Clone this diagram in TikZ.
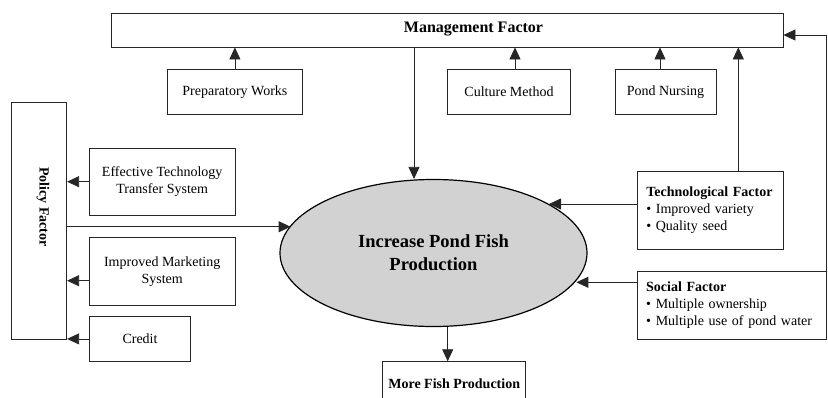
\documentclass[tikz,border=0pt]{standalone}
\usepackage{fontspec}
\setmainfont{Liberation Serif}
\usetikzlibrary{arrows.meta,shapes.geometric}

\begin{document}
\begin{tikzpicture}[x=1pt, y=-1pt, >={Triangle[length=12pt,width=11pt]}, line join=miter,
		box/.style={draw=black!85, line width=0.8pt, rectangle, inner sep=0pt, font=\fontsize{14}{17}\selectfont},
		arr/.style={->, draw=black!85, line width=0.8pt}]
	\useasboundingbox (0,0) rectangle (828,397);

	% (1) Management factor and its parts
	\node[box, minimum width=672pt, minimum height=34pt] (mgmt) at (447,30) {};
	\node[font=\fontsize{16}{19}\selectfont\bfseries] (mgmttext) at (473.5,29.5) {Management Factor};
	\node[box, minimum width=134.3pt, minimum height=44.7pt] (prep) at (234.9,91.7) {Preparatory Works};
	\node[box, minimum width=123.4pt, minimum height=44.7pt] (cult) at (509,91.7) {Culture Method};
	\node[box, minimum width=101pt, minimum height=44.7pt] (nurse) at (665.5,91.7) {Pond Nursing};

	% (2) Centre ellipse
	\node[ellipse, draw=black, line width=1.2pt, fill=gray!35, minimum width=307pt, minimum height=147pt,
		inner sep=0pt, align=center, font=\fontsize{18.5}{23.3}\selectfont\bfseries] (fish) at (433.5,253)
		{Increase Pond Fish\\Production};
	\node[box, minimum width=143pt, minimum height=44pt, font=\fontsize{14}{17}\selectfont\bfseries] (more) at (454.2,383.7) {More Fish Production};

	% (3) Policy factor
	\node[box, minimum width=55.4pt, minimum height=236.3pt] (policy) at (39,220.9) {};
	\node[rotate=-90, font=\fontsize{14}{17}\selectfont\bfseries] (policytext) at (43,207) {Policy Factor};
	\node[box, minimum width=145.7pt, minimum height=66.7pt, align=center] (ets) at (162.2,181.7) {Effective Technology\\Transfer System};
	\node[box, minimum width=145.7pt, minimum height=67.3pt, align=center] (ims) at (162.2,271.4) {Improved Marketing\\System};
	\node[box, minimum width=101.4pt, minimum height=44.3pt] (credit) at (140,338.9) {Credit};

	% (4) Technological and social factor
	\node[box, minimum width=146pt, minimum height=78pt, text width=128pt, align=left] (tech) at (710.3,210)
		{\textbf{Technological Factor}\\• Improved variety\\• Quality seed};
	\node[box, minimum width=189.5pt, minimum height=67.3pt, text width=171pt, align=left] (social) at (731.7,305.3)
		{\textbf{Social Factor}\\• Multiple ownership\\• Multiple use of pond water};

	% connectors
	\coordinate (cultx) at ([xshift=6pt]cult.north);
	\coordinate (nursex) at ([xshift=-5.5pt]nurse.north);
	\coordinate (techx) at ([xshift=28pt]tech.north);
	\coordinate (mgmtx) at ([xshift=-33pt]mgmt.south);
	\coordinate (mgmty) at ([yshift=-5pt]mgmt.east);
	\coordinate (techy) at ([yshift=6pt]tech.west);
	\coordinate (socy) at ([yshift=23pt]social.west);
	\coordinate (poly) at ([yshift=-5.85pt]policy.east);
	\coordinate (imsy) at ([yshift=-9.3pt]ims.west);
	\coordinate (morex) at ([xshift=-6.5pt]more.north);

	\draw[arr] (prep.north) -- (prep.north |- mgmt.south);
	\draw[arr] (cultx) -- (cultx |- mgmt.south);
	\draw[arr] (nursex) -- (nursex |- mgmt.south);
	\draw[arr] (techx) -- (techx |- mgmt.south);
	\draw[arr] (social.north east) |- (mgmty);
	\draw[arr] (mgmtx) -- (mgmtx |- fish.north);
	\draw[arr] (techy) -- (techy -| fish.23.2);
	\draw[arr] (socy) -- (socy -| fish.-11.8);
	\draw[arr] (poly) -- (poly -| fish.169.6);
	\draw[arr] (ets.west) -- (ets.west -| policy.east);
	\draw[arr] (imsy) -- (imsy -| policy.east);
	\draw[arr] (credit.west) -- (credit.west -| policy.east);
	\draw[arr] (morex |- fish.south) -- (morex);
\end{tikzpicture}
\end{document}
